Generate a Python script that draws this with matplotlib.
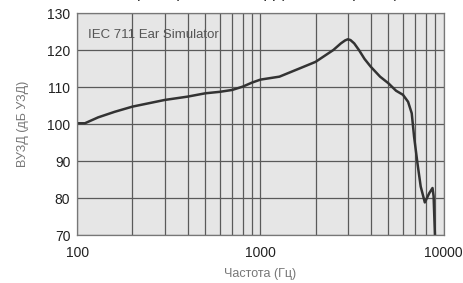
import matplotlib
matplotlib.use("Agg")
import matplotlib.pyplot as plt
from matplotlib.ticker import FixedLocator, NullFormatter

freq = [100, 110, 130, 160, 200, 300, 400, 500, 600, 700, 800, 900, 1000,
        1270, 1650, 2000, 2500, 2750, 2900, 3000, 3100, 3250, 3450, 3700,
        4000, 4500, 5000, 5500, 6000, 6400, 6700, 6900, 7200, 7500, 7900,
        8350, 8700, 8820, 8970]
spl = [100.2, 100.2, 101.8, 103.3, 104.7, 106.5, 107.4, 108.3, 108.7, 109.2,
       110.1, 111.2, 112.0, 112.8, 115.1, 116.8, 120.0, 121.8, 122.6, 122.9,
       122.7, 121.8, 120.0, 117.6, 115.5, 112.8, 111.0, 109.0, 107.9, 106.0,
       102.9, 96.6, 89.4, 83.1, 78.8, 81.3, 82.7, 80.5, 70.0]

yticks = [70, 80, 90, 100, 110, 120, 130]
xticks = [100, 1000, 10000]
xtick_labels = ["100", "1000", "10000"]
minor_x = [m * d for d in (100, 1000) for m in range(2, 10)]

plt.rcParams['font.family'] = ['Liberation Sans', 'DejaVu Sans']

fig = plt.figure(figsize=(4.64, 2.83), dpi=100)
ax = fig.add_axes([0.1666, 0.1696, 0.7894, 0.7844])
ax.set_facecolor('#e6e6e6')
fig.patch.set_facecolor('white')

ax.set_xscale('log')
ax.set_xlim(100, 10000)
ax.set_ylim(70, 130)

ax.xaxis.set_major_locator(FixedLocator(xticks))
ax.xaxis.set_minor_locator(FixedLocator(minor_x))
ax.xaxis.set_minor_formatter(NullFormatter())
ax.set_xticks(xticks)
ax.set_xticklabels(xtick_labels)
ax.set_yticks(yticks)

ax.grid(True, which='both', axis='x', color='#5a5a5a', linewidth=0.9)
ax.grid(True, which='major', axis='y', color='#5a5a5a', linewidth=0.9)
ax.set_axisbelow(True)

ax.tick_params(which='both', length=0, labelsize=10, colors='#222222', pad=8)
ax.tick_params(axis='y', pad=5)
for s in ax.spines.values():
    s.set_color('#777777')
    s.set_linewidth(0.9)

ax.plot(freq, spl, color='#333333', linewidth=1.8, solid_joinstyle='round')

ax.text(0.03, 0.93, 'IEC 711 Ear Simulator', transform=ax.transAxes,
        fontsize=9.5, color='#555555', va='top', ha='left')

ax.set_ylabel('ВУЗД (дБ УЗД)', fontsize=9, color='#777777', labelpad=13)
ax.set_xlabel('Частота (Гц)', fontsize=9, color='#777777', labelpad=6)

fig.text(399 / 464, 1 + 2 / 283, 'Частотная характеристика ВУЗД (типовая кривая)',
         ha='right', va='baseline', fontsize=11, color='#222222')

fig.savefig('out.png', dpi=100)
